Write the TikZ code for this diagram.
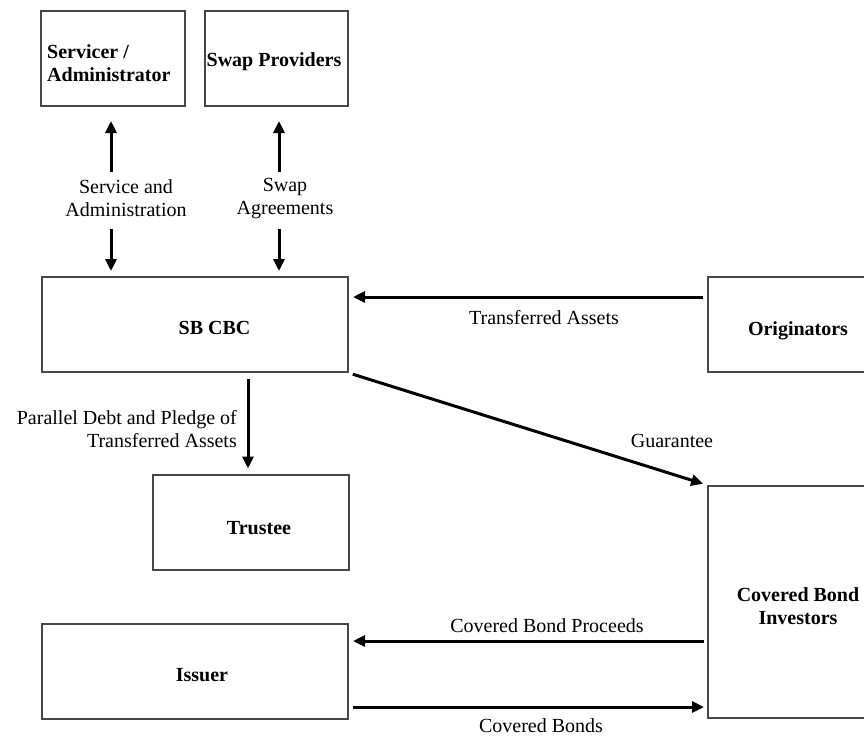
\documentclass[tikz,border=0pt]{standalone}
\usepackage{fontspec}
\setmainfont{Liberation Serif}
\usetikzlibrary{arrows.meta}
\begin{document}
\begin{tikzpicture}[x=1pt,y=-1pt,
  box/.style={draw=black!72, line width=2pt, inner sep=0pt},
  arr/.style={line width=3pt, -{Triangle[length=12pt,width=11pt]}},
  lbl/.style={font=\fontsize{20}{23}\selectfont, inner sep=0pt, align=center},
  btxt/.style={font=\fontsize{20}{23}\selectfont\bfseries, inner sep=0pt, align=center}]
\useasboundingbox (0,0) rectangle (864,737);
\begin{scope}
\clip (0,0) rectangle (864,737);
% boxes
\node[box, minimum width=144pt, minimum height=95pt] (serv) at (113,58.5) {};
\node[box, minimum width=143pt, minimum height=95pt] (swap) at (276.5,58.5) {};
\node[box, minimum width=306pt, minimum height=95pt] (sb) at (195,324.5) {};
\node[box, minimum width=172pt, minimum height=95pt] (orig) at (794,324.5) {};
\node[box, minimum width=196pt, minimum height=95pt] (trustee) at (250.5,522) {};
\node[box, minimum width=306pt, minimum height=95pt] (issuer) at (195,671.5) {};
\node[box, minimum width=172pt, minimum height=232pt] (cbi) at (794,602) {};
% box texts
\node[btxt, align=left, anchor=west] (servt) at (47,63.5) {Servicer /\\Administrator};
\node[btxt] (swapt) at (274,62) {Swap Providers};
\node[btxt] (sbt) at (214.5,328) {SB CBC};
\node[btxt] (origt) at (798,331) {Originators};
\node[btxt] (trustt) at (259,528) {Trustee};
\node[btxt] (issuert) at (202,675) {Issuer};
\node[btxt] (cbit) at (798,606) {Covered Bond\\Investors};
% labels
\node[lbl] (l1) at (126,198.5) {Service and\\Administration};
\node[lbl] (l2) at (285,198.5) {Swap\\Agreements};
\node[lbl] (l3) at (544,318) {Transferred Assets};
\node[lbl] (l4) at (672,441) {Guarantee};
\node[lbl, align=right, anchor=east] (l5) at (237,429) {Parallel Debt and Pledge of\\Transferred Assets};
\node[lbl] (l6) at (547,626) {Covered Bond Proceeds};
\node[lbl] (l7) at (541,726) {Covered Bonds};
% connectors
\coordinate (c1) at (111,172);
\coordinate (c2) at (111,229);
\coordinate (c3) at (279,172);
\coordinate (c4) at (279,229);
\draw[arr, shorten >=14pt] (c1) -- (c1 |- serv.south);
\draw[arr, shorten >=5pt] (c2) -- (c2 |- sb.north);
\draw[arr, shorten >=14pt] (c3) -- (c3 |- swap.south);
\draw[arr, shorten >=5pt] (c4) -- (c4 |- sb.north);
\draw[arr, shorten <=4pt, shorten >=4pt] (orig.west |- 0,297) -- (sb.east |- 0,297);
\draw[arr, shorten <=4pt, shorten >=4pt] (sb.south east) -- (cbi.north west);
\draw[arr, shorten <=6pt, shorten >=5pt] (sb.south -| 248,0) -- (trustee.north -| 248,0);
\draw[arr, shorten <=3pt, shorten >=4pt] (cbi.west |- 0,641) -- (issuer.east |- 0,641);
\draw[arr, shorten <=4pt, shorten >=3pt] (issuer.east |- 0,707) -- (cbi.west |- 0,707);
\end{scope}
\end{tikzpicture}
\end{document}
